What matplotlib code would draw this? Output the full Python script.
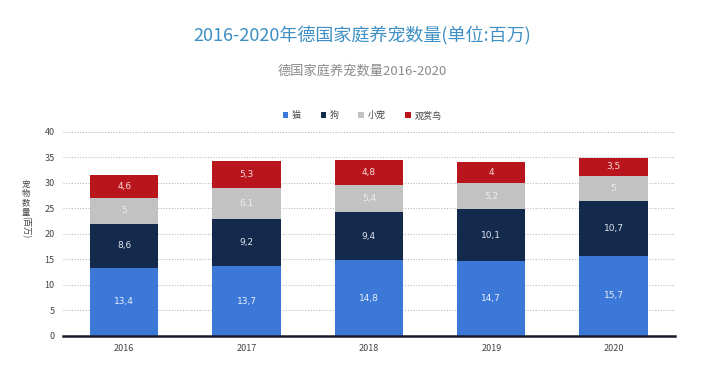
import matplotlib.pyplot as plt
import numpy as np

plt.rcParams['font.family'] = ['Noto Sans CJK SC', 'DejaVu Sans']

# data (millions)
years = ['2016', '2017', '2018', '2019', '2020']
cats = [13.4, 13.7, 14.8, 14.7, 15.7]
dogs = [8.6, 9.2, 9.4, 10.1, 10.7]
small_pets = [5, 6.1, 5.4, 5.2, 5]
birds = [4.6, 5.3, 4.8, 4, 3.5]

series_names = ['猫', '狗', '小宠', '观赏鸟']
series_values = [cats, dogs, small_pets, birds]
colors = ['#3b78d8', '#142a4c', '#c2c2c2', '#b8161c']
label_colors = ['#e8eef8', '#dfe4ee', '#eeeeee', '#f5dada']

fig = plt.figure(figsize=(7.24, 3.76), dpi=100)
ax = fig.add_axes([0.087, 0.1064, 0.845, 0.543])

x = np.arange(len(years))
bottom = np.zeros(len(years))
for name, vals, col, lcol in zip(series_names, series_values, colors, label_colors):
    vals = np.array(vals)
    ax.bar(x, vals, 0.56, bottom=bottom, color=col, label=name, zorder=3)
    for xi, b, v in zip(x, bottom, vals):
        txt = ('%g' % v).replace('.', ',')
        ax.text(xi, b + v / 2, txt, ha='center', va='center', fontsize=6.5,
                color=lcol, family='DejaVu Sans', zorder=4)
    bottom = bottom + vals

ax.set_xlim(-0.5, 4.5)
ax.set_ylim(0, 40)
ax.set_yticks(range(0, 41, 5))
ax.set_xticks(x)
ax.set_xticklabels(years)
ax.tick_params(axis='both', length=0, labelsize=6.5, colors='#444444', pad=6)
ax.yaxis.grid(True, linestyle=(0, (1, 1.5)), color='#bbbbbb', linewidth=0.8, zorder=0)
for side in ['left', 'right', 'top']:
    ax.spines[side].set_visible(False)
ax.spines['bottom'].set_color('#1a1a2a')
ax.spines['bottom'].set_linewidth(1.8)
ax.spines['bottom'].set_zorder(5)

# y-axis label: upright stacked characters, unit rotated below
for i, ch in enumerate('宠物数量'):
    fig.text(0.036, 1 - (184 + 9.5 * i) / 376, ch, ha='center', va='center',
             fontsize=6, color='#444444')
fig.text(0.036, 1 - 216 / 376, '(百万)', ha='center', va='top', rotation=270,
         fontsize=6, color='#444444')

fig.text(0.5, 0.905, '2016-2020年德国家庭养宠数量(单位:百万)', ha='center', va='center',
         fontsize=13, color='#3d8fc4')
fig.text(0.5, 0.81, '德国家庭养宠数量2016-2020', ha='center', va='center',
         fontsize=9.5, color='#8a8a8a')

leg = fig.legend(loc='center', bbox_to_anchor=(0.5, 0.692), ncol=4, frameon=False,
                 fontsize=6.5, handlelength=0.6, handleheight=0.6, handletextpad=0.4,
                 columnspacing=2.2)
for t in leg.get_texts():
    t.set_color('#444444')

plt.savefig('out.png', dpi=100)
plt.close()
